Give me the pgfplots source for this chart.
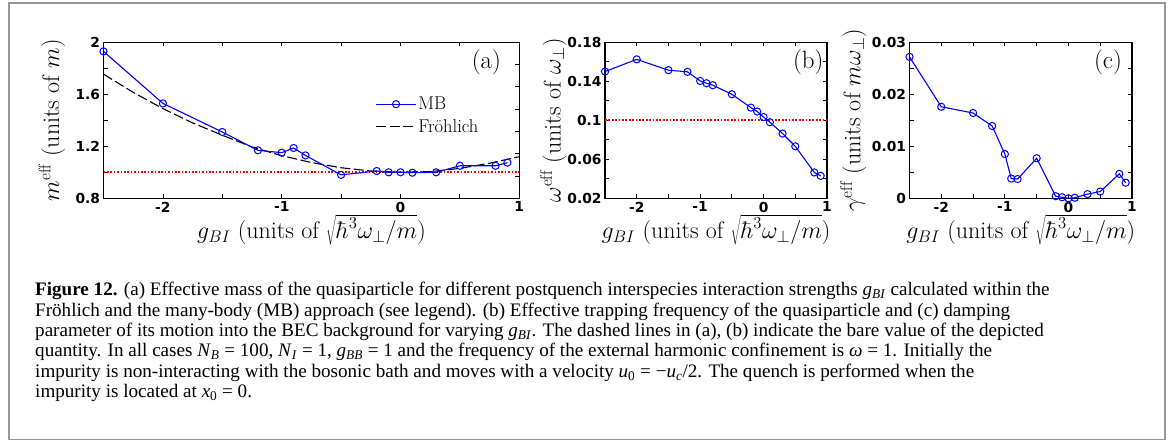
\documentclass[border=0pt]{standalone}
\usepackage{fix-cm}
\usepackage{fontspec}
\usepackage{pgfplots}
\pgfplotsset{compat=1.18}
\newfontfamily\capfont{Liberation Serif}
\newfontfamily\tickfont{DejaVu Sans}
\definecolor{mbblue}{RGB}{0,0,255}
\definecolor{framegray}{RGB}{150,150,150}
\tikzset{panlabel/.style={font=\fontsize{25}{30}\selectfont}}
\pgfplotsset{
  panel/.style={
    scale only axis, anchor=south west, height=156pt,
    xmin=-2.5, xmax=1,
    xtick={-2.5,-2,-1.5,-1,-0.5,0,0.5,1},
    xticklabels={,-2,,-1,,0,,1},
    tick align=inside, major tick length=4pt,
    every tick/.style={black, line width=0.8pt},
    axis line style={line width=1.1pt},
    tick label style={font=\fontsize{13.8}{16}\selectfont\tickfont\bfseries},
    label style={font=\fontsize{24}{28}\selectfont},
    xlabel={$g_{BI}$ (units of $\sqrt{\hbar^3\omega_\perp/m}$)},
    xlabel style={at={(axis description cs:0.5,-0.205)}, anchor=center},
  },
  mb/.style={mbblue, line width=1.1pt, mark=o, mark size=3.6pt, mark options={line width=1pt, solid}},
  bare/.style={red, line width=1.7pt, dash pattern=on 1.7pt off 1.7pt},
}
\begin{document}
\begin{tikzpicture}
\path[fill=white, use as bounding box] (0pt,0pt) rectangle (1171pt,441pt);
\draw[framegray, line width=1.5pt] (9pt,438pt) rectangle (1165pt,1.5pt);

% ---------- (a)
\begin{axis}[panel, at={(103.5pt,242.7pt)}, width=415.8pt,
  ymin=0.8, ymax=2,
  ytick={0.8,1.0,1.2,1.4,1.6,1.8,2.0},
  yticklabels={0.8,,1.2,,1.6,,2},
  ytick pos=left,
  ylabel={$m^{\mathrm{eff}}$ (units of $m$)},
  ylabel style={at={(axis description cs:-0.124,0.5)}, anchor=center},
  reverse legend,
  legend cell align=left,
  legend style={draw=none, fill=none, at={(axis description cs:0.647,0.53)}, anchor=west,
    font=\fontsize{18.5}{22}\selectfont, row sep=4.5pt},
  legend image code/.code={\draw[mark repeat=2,mark phase=2,#1] plot coordinates {(0pt,0pt) (19.8pt,0pt) (39.6pt,0pt)};},
]
\addplot[bare, forget plot] coordinates {(-2.5,1) (1,1)};
\addplot[black, line width=1.1pt, dash pattern=on 10pt off 3.5pt] coordinates {
(-2.5,1.755) (-2.25,1.615) (-2.0,1.49) (-1.75,1.38) (-1.5,1.285) (-1.25,1.195)
(-1.0,1.128) (-0.75,1.075) (-0.5,1.035) (-0.25,1.01) (0,1.0) (0.25,1.005)
(0.5,1.03) (0.75,1.07) (1.0,1.12)};
\addlegendentry{Fröhlich}
\addplot[mb] coordinates {
(-2.5,1.93) (-2.0,1.53) (-1.5,1.31) (-1.2,1.169) (-1.0,1.151) (-0.9,1.187)
(-0.8,1.13) (-0.5,0.98) (-0.2,1.01) (-0.1,1.0) (0,1.0) (0.1,0.997)
(0.3,1.0) (0.5,1.05) (0.8,1.05) (0.9,1.074)};
\addlegendentry{MB}
\node[panlabel] at (axis description cs:0.921,0.874) {(a)};
\end{axis}
\begin{axis}[scale only axis, anchor=south west, at={(103.5pt,242.7pt)}, width=415.8pt, height=156pt,
  xmin=-2.5, xmax=1, ymin=0.8, ymax=2, hide x axis, axis line style={draw=none},
  ytick pos=right, tick align=inside, major tick length=4pt,
  every tick/.style={black, line width=0.8pt},
  ytick={0.971429,1.142857,1.314286,1.485714,1.657143,1.828571}, yticklabels={}]
\end{axis}

% ---------- (b)
\begin{axis}[panel, at={(605pt,242.7pt)}, width=222pt,
  ymin=0.02, ymax=0.18,
  ytick={0.02,0.04,0.06,0.08,0.1,0.12,0.14,0.16,0.18},
  yticklabels={0.02,,0.06,,0.1,,0.14,,0.18},
  ylabel={$\omega^{\mathrm{eff}}$ (units of $\omega_\perp$)},
  ylabel style={at={(axis description cs:-0.233,0.5)}, anchor=center},
]
\addplot[bare] coordinates {(-2.5,0.1) (1,0.1)};
\addplot[mb] coordinates {
(-2.5,0.150) (-2.0,0.1625) (-1.5,0.1514) (-1.2,0.1497) (-1.0,0.1404) (-0.9,0.138)
(-0.8,0.136) (-0.5,0.1267) (-0.2,0.113) (-0.1,0.109) (0,0.1033) (0.1,0.098)
(0.3,0.0864) (0.5,0.0733) (0.8,0.0465) (0.9,0.043)};
\node[panlabel] at (axis description cs:0.916,0.871) {(b)};
\end{axis}

% ---------- (c)
\begin{axis}[panel, at={(909.5pt,242.7pt)}, width=222.5pt,
  ymin=0, ymax=0.03,
  ytick={0,0.005,0.01,0.015,0.02,0.025,0.03},
  yticklabels={0,,0.01,,0.02,,0.03},
  scaled y ticks=false,
  ylabel={$\gamma^{\mathrm{eff}}$ (units of $m\omega_\perp$)},
  ylabel style={at={(axis description cs:-0.253,0.5)}, anchor=center},
]
\addplot[mb] coordinates {
(-2.5,0.0272) (-2.0,0.0176) (-1.5,0.0164) (-1.2,0.0139) (-1.0,0.0085) (-0.9,0.0038)
(-0.8,0.0037) (-0.5,0.0077) (-0.2,0.0004) (-0.1,0.0002) (0,0.0) (0.1,0.0001)
(0.3,0.0008) (0.5,0.0013) (0.8,0.0047) (0.9,0.003)};
\node[panlabel] at (axis description cs:0.892,0.871) {(c)};
\end{axis}

% ---------- caption
\begin{scope}[every node/.style={anchor=base west, inner sep=0pt, font=\fontsize{19.1}{20.3}\selectfont\capfont}]
\node at (35pt,145pt) {\textbf{Figure 12.} (a) Effective mass of the quasiparticle for different postquench interspecies interaction strengths \textit{g}\textsubscript{\textit{BI}} calculated within the};
\node at (35pt,124.7pt) {Fröhlich and the many-body (MB) approach (see legend). (b) Effective trapping frequency of the quasiparticle and (c) damping};
\node at (35pt,104.4pt) {parameter of its motion into the BEC background for varying \textit{g}\textsubscript{\textit{BI}}. The dashed lines in (a), (b) indicate the bare value of the depicted};
\node at (35pt,84.1pt) {quantity. In all cases \textit{N}\textsubscript{\textit{B}} = 100, \textit{N}\textsubscript{\textit{I}} = 1, \textit{g}\textsubscript{\textit{BB}} = 1 and the frequency of the external harmonic confinement is \textit{ω} = 1. Initially the};
\node at (35pt,63.8pt) {impurity is non-interacting with the bosonic bath and moves with a velocity \textit{u}\textsubscript{0} = −\textit{u}\textsubscript{\textit{c}}/2. The quench is performed when the};
\node at (35pt,43.5pt) {impurity is located at \textit{x}\textsubscript{0} = 0.};
\end{scope}
\end{tikzpicture}
\end{document}
